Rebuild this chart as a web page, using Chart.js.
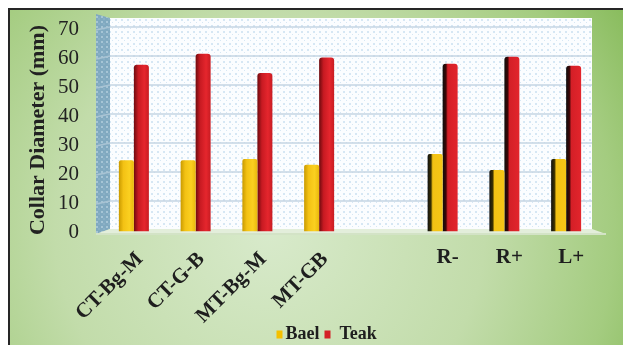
<!DOCTYPE html>
<html>
<head>
<meta charset="utf-8">
<script src="https://cdn.jsdelivr.net/npm/chart.js@4.4.0/dist/chart.umd.min.js"></script>
<style>
  html, body { margin: 0; padding: 0; background: #ffffff; }
  #wrap { width: 623px; height: 345px; position: relative; }
</style>
</head>
<body>
<div id="wrap"><canvas id="c" width="623" height="345"></canvas></div>
<script>
// ---- data ----
const categories = ['CT-Bg-M', 'CT-G-B', 'MT-Bg-M', 'MT-GB', '', 'R-', 'R+', 'L+'];
const rotatedLabels = [true, true, true, true, false, false, false, false];
const baelValues = [24.6, 24.6, 25.0, 23.0, null, 26.7, 21.2, 25.0];
const teakValues = [57.5, 61.3, 54.7, 60.0, null, 57.9, 60.3, 57.2];
const seriesNames = ['Bael', 'Teak'];
const yMin = 0, yMax = 70, yStep = 10;
const yTitle = 'Collar Diameter (mm)';

// ---- style ----
const CAT_PCT = 0.486;
const SERIF = "'Liberation Serif', 'Times New Roman', serif";
const legendColors = ['#f5c000', '#d42027'];
const shadeStops = {
  0: { normal: ['#c99a00', '#f3c214', '#fbd020', '#e9b80c'], dark: ['#111111', '#3a3000', '#f3c214', '#f6c616'] },
  1: { normal: ['#6e0a0e', '#c81a22', '#e5262d', '#c81c22'], dark: ['#0e0e0e', '#3a0606', '#d41f27', '#e2252c'] }
};

function barFill(ctx) {
  const chart = ctx.chart;
  const xs = chart.scales && chart.scales.x;
  const ds = ctx.datasetIndex;
  if (!chart.chartArea || !xs || ctx.dataIndex === undefined) return legendColors[ds];
  const center = xs.getPixelForValue(ctx.dataIndex);
  const w = (xs.width / categories.length) * CAT_PCT / 2;
  const left = ds === 0 ? center - w : center;
  const set = ctx.dataIndex >= 5 ? shadeStops[ds].dark : shadeStops[ds].normal;
  const g = chart.ctx.createLinearGradient(left, 0, left + w, 0);
  if (ctx.dataIndex >= 5) {
    g.addColorStop(0, set[0]);
    g.addColorStop(0.22, set[1]);
    g.addColorStop(0.34, set[2]);
    g.addColorStop(1, set[3]);
  } else {
    g.addColorStop(0, set[0]);
    g.addColorStop(0.3, set[1]);
    g.addColorStop(0.7, set[2]);
    g.addColorStop(1, set[3]);
  }
  return g;
}

function makePattern(base, dot, size) {
  const c = document.createElement('canvas');
  c.width = size; c.height = size;
  const x = c.getContext('2d');
  x.fillStyle = base; x.fillRect(0, 0, size, size);
  x.fillStyle = dot;
  x.fillRect(1, 1, 2, 2);
  x.fillRect(1 + size / 2, 1 + size / 2, 1, 1);
  return c;
}

const backdrop = {
  id: 'backdrop',
  beforeDraw(chart) {
    const ctx = chart.ctx;
    const W = chart.width, H = chart.height;
    const ys = chart.scales.y;
    ctx.save();
    ctx.fillStyle = '#ffffff';
    ctx.fillRect(0, 0, W, H);
    // green panel
    const rg = ctx.createRadialGradient(270, 230, 0, 270, 230, 430);
    rg.addColorStop(0, '#d8eacb');
    rg.addColorStop(0.5, '#c2dcaa');
    rg.addColorStop(0.8, '#a4cc80');
    rg.addColorStop(1, '#84b957');
    ctx.fillStyle = rg;
    ctx.fillRect(9, 9, W - 9, H - 9);
    // frame
    ctx.fillStyle = '#262626';
    ctx.fillRect(8, 8, W - 8, 2);
    ctx.fillRect(8, 8, 2, H - 8);

    const backL = 110, backR = 592, backT = 18, backB = 229;
    const wallL = 96, wallT = 14, floorY = 234, floorR = 606;
    // back wall
    ctx.fillStyle = ctx.createPattern(makePattern('#fbfdff', '#d6e7f4', 6), 'repeat');
    ctx.fillRect(backL, backT, backR - backL, backB - backT);
    // side wall
    ctx.beginPath();
    ctx.moveTo(wallL, wallT); ctx.lineTo(backL, backT); ctx.lineTo(backL, backB); ctx.lineTo(wallL, floorY);
    ctx.closePath();
    ctx.fillStyle = ctx.createPattern(makePattern('#80a9c0', '#a6c5d6', 5), 'repeat');
    ctx.fill();
    // floor
    ctx.beginPath();
    ctx.moveTo(wallL, floorY); ctx.lineTo(backL, backB); ctx.lineTo(backR, backB); ctx.lineTo(floorR, floorY);
    ctx.closePath();
    ctx.fillStyle = '#e3eedb';
    ctx.fill();
    ctx.fillStyle = '#d3e3c6';
    ctx.fillRect(wallL, floorY - 1, floorR - wallL, 2);
    // gridlines from the y scale
    ctx.lineWidth = 1.5;
    ys.ticks.forEach(t => {
      if (t.value === yMin) return;
      const y = ys.getPixelForValue(t.value) - 1.5;
      ctx.strokeStyle = '#c4d5e3';
      ctx.beginPath();
      ctx.moveTo(backL, y); ctx.lineTo(backR, y);
      ctx.stroke();
      ctx.strokeStyle = '#a9c4d4';
      ctx.beginPath();
      ctx.moveTo(wallL, y + 3); ctx.lineTo(backL, y);
      ctx.stroke();
    });
    ctx.restore();
  },
  afterDraw(chart) {
    const ctx = chart.ctx;
    const xs = chart.scales.x;
    ctx.save();
    ctx.fillStyle = '#1e1e1e';
    // category labels
    categories.forEach((lab, i) => {
      if (!lab) return;
      const cx = xs.getPixelForValue(i) + 5;
      if (rotatedLabels[i]) {
        ctx.save();
        ctx.font = 'bold 21px ' + SERIF;
        ctx.translate(cx + 1, 256);
        ctx.rotate(-Math.PI / 4);
        ctx.textAlign = 'right';
        ctx.textBaseline = 'middle';
        ctx.fillText(lab, 0, 0);
        ctx.restore();
      } else {
        ctx.font = 'bold 21px ' + SERIF;
        ctx.textAlign = 'center';
        ctx.textBaseline = 'middle';
        ctx.fillText(lab, cx, 258);
      }
    });
    // legend
    ctx.font = 'bold 18px ' + SERIF;
    ctx.textAlign = 'left';
    ctx.textBaseline = 'alphabetic';
    let x = 276.5;
    const gaps = [[3, 5], [9, 0]];
    chart.data.datasets.forEach((ds, i) => {
      ctx.fillStyle = legendColors[i];
      ctx.fillRect(x, 330.5, 6, 8);
      x += 6 + gaps[i][0];
      ctx.fillStyle = '#1e1e1e';
      ctx.fillText(ds.label, x, 338.5);
      x += ctx.measureText(ds.label).width + gaps[i][1];
    });
    ctx.restore();
  }
};

new Chart(document.getElementById('c'), {
  type: 'bar',
  data: {
    labels: categories,
    datasets: [
      { label: seriesNames[0], data: baelValues, backgroundColor: barFill, borderRadius: 2, borderSkipped: 'start' },
      { label: seriesNames[1], data: teakValues, backgroundColor: barFill, borderRadius: 3, borderSkipped: 'start' }
    ]
  },
  options: {
    responsive: false,
    animation: false,
    events: [],
    categoryPercentage: CAT_PCT,
    barPercentage: 1.0,
    layout: { padding: { left: 10, right: 26, top: 19.5, bottom: 0 } },
    plugins: { legend: { display: false }, tooltip: { enabled: false } },
    scales: {
      x: {
        ticks: { display: false },
        grid: { display: false },
        border: { display: false },
        afterFit: s => { s.height = 345 - 231.5; }
      },
      y: {
        min: yMin, max: yMax,
        ticks: { stepSize: yStep, color: '#222222', font: { family: SERIF, size: 21 }, padding: 16, labelOffset: 1 },
        grid: { display: false },
        border: { display: false },
        title: { display: true, text: yTitle, color: '#222222', font: { family: SERIF, size: 22, weight: 'bold' }, padding: { top: 15, bottom: 0 } },
        afterFit: s => { s.width = 93; }
      }
    }
  },
  plugins: [backdrop]
});
</script>
</body>
</html>
